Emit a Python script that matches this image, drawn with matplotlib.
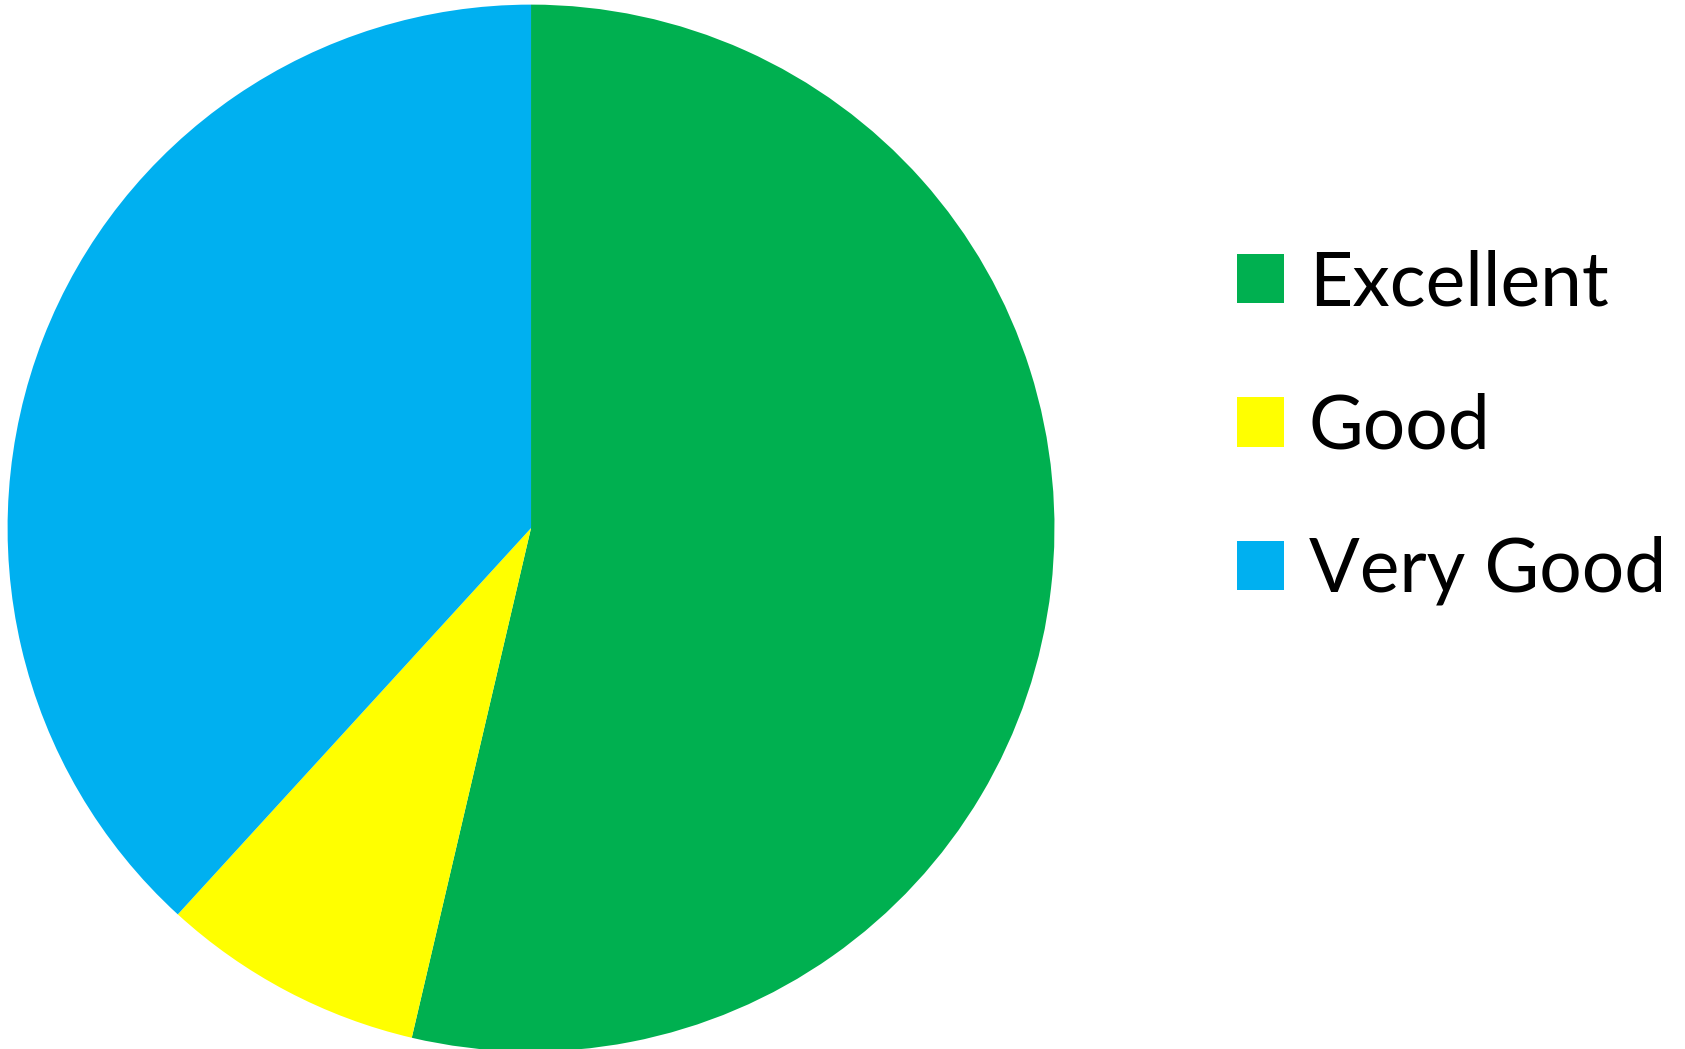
import matplotlib
matplotlib.use('Agg')
import matplotlib.pyplot as plt

# Datos del gráfico
categorias = ['Excellent', 'Good', 'Very Good']
valores = [66, 10, 47]
colores = ['#00B050', '#FFFF00', '#00B0F0']

plt.rcParams['font.family'] = ['Lato', 'DejaVu Sans']

fig = plt.figure(figsize=(16.85, 10.49), dpi=100)
ax = fig.add_axes([0.00445, -0.0024, 0.6214, 0.998])

cunas, _ = ax.pie(valores, colors=colores, startangle=90, counterclock=False,
                  radius=1, wedgeprops={'linewidth': 0})
ax.set_xlim(-1, 1)
ax.set_ylim(-1, 1)
ax.set_aspect('equal')
ax.axis('off')

# Leyenda a la derecha
fig.legend(cunas, categorias, loc='upper left', bbox_to_anchor=(0.734, 0.7625),
           frameon=False, fontsize=54, handlelength=0.63, handleheight=0.63,
           handletextpad=0.33, labelspacing=0.99, borderaxespad=0, borderpad=0)

fig.savefig('out.png', dpi=100)
